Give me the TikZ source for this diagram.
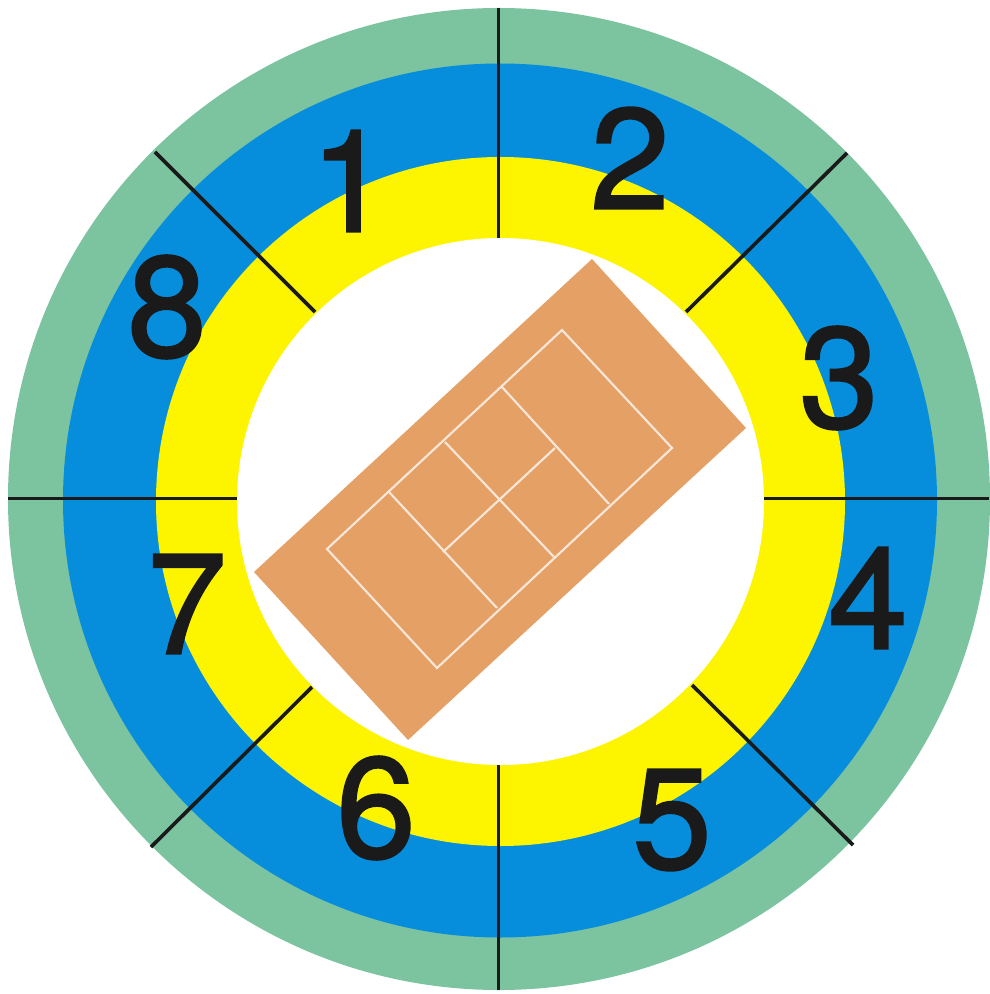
\documentclass[tikz,border=0pt]{standalone}
\usepackage{fontspec}
\setmainfont{Liberation Sans}
\newfontfamily\numfont[FakeBold=1.6]{TeX Gyre Heros}
\definecolor{ringgreen}{HTML}{7CC3A0}
\definecolor{ringblue}{HTML}{068EDD}
\definecolor{ringyellow}{HTML}{FDF400}
\definecolor{clay}{HTML}{E5A066}
\definecolor{inktext}{HTML}{1A1A1A}
\tikzset{
  px/.style={x=0.75pt,y=-0.75pt},
  sector/.style={draw=inktext,line width=2.7pt},
  courtline/.style={draw=white!75!clay,line width=1.6pt,line join=miter},
  num/.style={font=\numfont\fontsize{107pt}{107pt}\selectfont,text=inktext,inner sep=0pt}
}
\begin{document}
\begin{tikzpicture}[px]
\useasboundingbox (0,0) rectangle (989,994);
\fill[white] (0,0) rectangle (989,994);
\fill[ringgreen] (499,499) circle[radius=491];
\fill[ringblue] (500,500.5) circle[radius=437];
\fill[ringyellow] (500.5,501.5) circle[radius=344.5];
\fill[white] (500.5,501.5) circle[radius=263.5];
% spokes
\coordinate (n1) at (498.5,8); \coordinate (n2) at (498.5,238);
\coordinate (s1) at (498.5,990); \coordinate (s2) at (498.5,765);
\coordinate (w1) at (8,498.5); \coordinate (w2) at (237,498.5);
\coordinate (e1) at (989,498.5); \coordinate (e2) at (764,498.5);
\coordinate (nw1) at (155,152); \coordinate (nw2) at (315,312);
\coordinate (ne1) at (847,153); \coordinate (ne2) at (686,312);
\coordinate (se1) at (853,845); \coordinate (se2) at (692,685);
\coordinate (sw1) at (151,847); \coordinate (sw2) at (312,687);
\foreach \a in {n,s,w,e,nw,ne,se,sw} \draw[sector] (\a1) -- (\a2);
% court
\fill[clay] (592,259) -- (746,428) -- (408,740) -- (254,572) -- cycle;
\draw[courtline] (562,330) -- (672,448) -- (437,668) -- (327,549) -- cycle;
\draw[courtline] (502,387) -- (609,504);
\draw[courtline] (389,492) -- (497,608);
\draw[courtline] (445,442) -- (554,557);
\draw[courtline] (555,448) -- (443,552);
% numbers
\node[num] (l1) at (350,181) {1};
\node[num] (l2) at (630,158) {2};
\node[num] (l3) at (839,378) {3};
\node[num] (l4) at (868,598) {4};
\node[num] (l5) at (672,820) {5};
\node[num] (l6) at (376,808) {6};
\node[num] (l7) at (187,604) {7};
\node[num] (l8) at (167,307) {8};
\end{tikzpicture}
\end{document}
